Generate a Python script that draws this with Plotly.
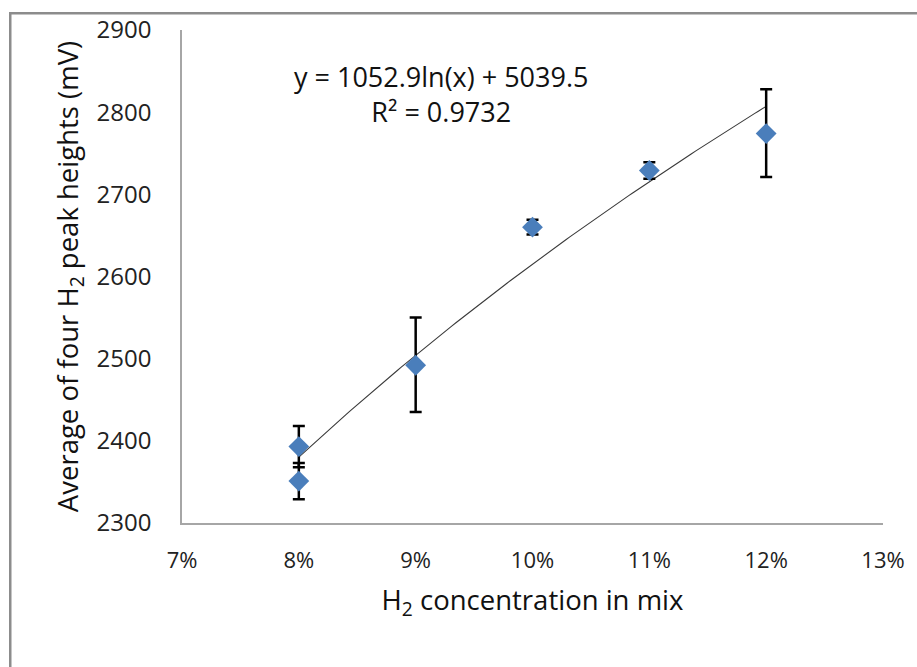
import numpy as np
import plotly.graph_objects as go

# Data
conc = [0.08, 0.08, 0.09, 0.10, 0.11, 0.12]
peak_mean = [2393, 2351, 2492, 2660, 2729, 2774]
err_plus = [25, 22, 58, 9, 10, 54]
err_minus = [25, 22, 57, 9, 10, 53]

# Logarithmic trendline coefficients (as shown on the chart)
fit_a = 1052.9
fit_b = 5039.5
fit_text = "y = 1052.9ln(x) + 5039.5"
r2_text = "R² = 0.9732"

x_ticks = [0.07, 0.08, 0.09, 0.10, 0.11, 0.12, 0.13]
x_ticklabels = ["7%", "8%", "9%", "10%", "11%", "12%", "13%"]
y_ticks = [2300, 2400, 2500, 2600, 2700, 2800, 2900]

FONT = "Open Sans"

xf = np.linspace(min(conc), max(conc), 120)
yf = fit_a * np.log(xf) + fit_b

fig = go.Figure()
fig.add_trace(go.Scatter(
    x=xf, y=yf, mode="lines",
    line=dict(color="#3a3a3a", width=1.1),
    hoverinfo="skip", showlegend=False,
))
fig.add_trace(go.Scatter(
    x=conc, y=peak_mean, mode="markers",
    marker=dict(symbol="diamond", size=16, color="#4a7ebb"),
    error_y=dict(type="data", symmetric=False, array=err_plus, arrayminus=err_minus,
                 color="#000000", thickness=2.5, width=6),
    showlegend=False,
))

fig.update_layout(
    width=917, height=667,
    margin=dict(l=182, r=29, t=25, b=144),
    paper_bgcolor="white", plot_bgcolor="white",
    font=dict(family=FONT, color="#1a1a1a"),
    showlegend=False,
)
fig.update_xaxes(
    range=[0.07, 0.13], tickvals=x_ticks, ticktext=x_ticklabels,
    showgrid=False, zeroline=False, showline=True, linecolor="#a6a6a6", linewidth=1.5,
    ticks="", tickfont=dict(size=22, family=FONT, color="#222"), ticklabelstandoff=17,
    title=dict(text="H<sub>2</sub> concentration in mix", font=dict(size=27.5, family=FONT, color="#111"), standoff=18),
)
fig.update_yaxes(
    range=[2300, 2900], tickvals=y_ticks,
    showgrid=False, zeroline=False, showline=True, linecolor="#a6a6a6", linewidth=1.5,
    ticks="", tickfont=dict(size=24, family=FONT, color="#222"), ticklabelstandoff=24,
    title=dict(text="Average of four H<sub>2</sub> peak heights (mV)", font=dict(size=27.5, family=FONT, color="#111"), standoff=10),
)

fig.add_annotation(x=0.370, y=0.8695, xref="paper", yref="paper",
                   text=fit_text + "<br>" + r2_text, align="center",
                   showarrow=False, font=dict(size=27, family=FONT, color="#111"),
                   xanchor="center", yanchor="middle")

# Outer chart frame
fig.add_shape(type="rect", xref="paper", yref="paper",
              x0=-0.245, y0=-0.5, x1=1.2, y1=1.0341,
              line=dict(color="#8c8c8c", width=2.5), layer="below")

fig.write_html("out.html")
